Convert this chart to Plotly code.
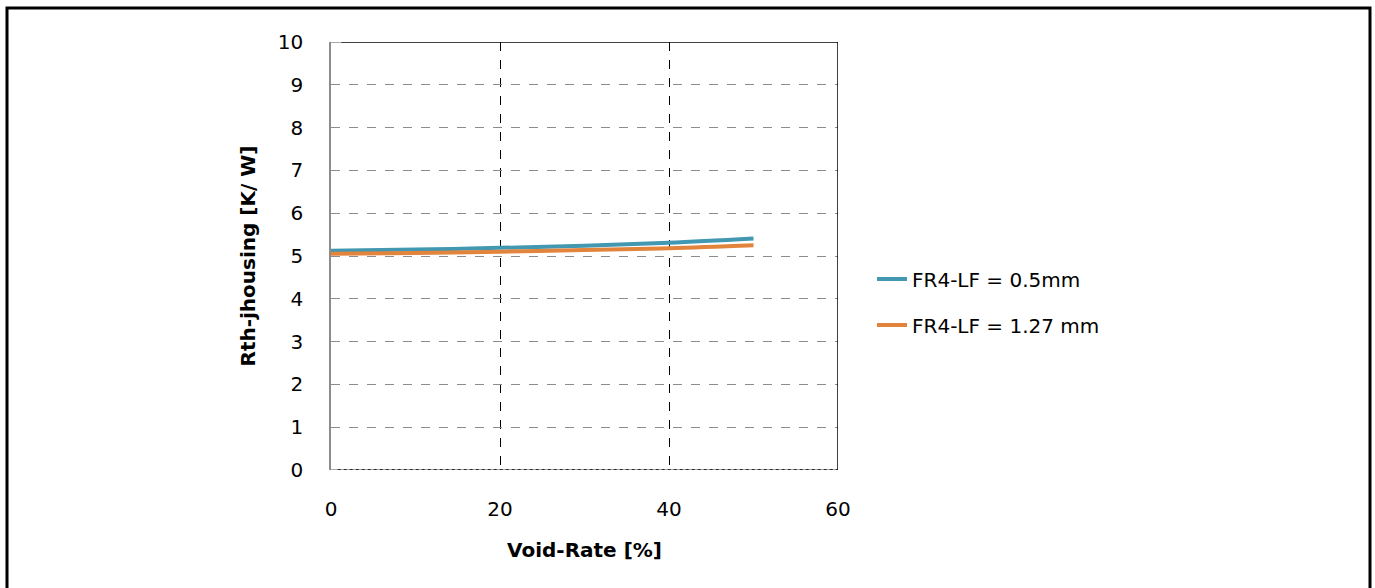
import plotly.graph_objects as go

void_rate = [0, 10, 20, 30, 40, 50]
rth_05 = [5.12, 5.15, 5.19, 5.24, 5.31, 5.41]
rth_127 = [5.05, 5.07, 5.10, 5.14, 5.18, 5.25]
x_ticks = [0, 20, 40, 60]
y_ticks = list(range(0, 11))

FONT = "DejaVu Sans, sans-serif"
L, R, T, B = 331, 838, 42, 470
W, H = 1375, 588
pw, ph = R - L, B - T

fig = go.Figure()
fig.add_trace(go.Scatter(x=void_rate, y=rth_05, mode="lines", name="FR4-LF = 0.5mm",
                         legendgroup="a",
                         line=dict(color="#4297B1", width=4), line_shape="spline"))
fig.add_trace(go.Scatter(x=void_rate, y=rth_127, mode="lines", name="FR4-LF = 1.27 mm",
                         legendgroup="b",
                         line=dict(color="#E3843C", width=4), line_shape="spline"))

fig.update_layout(
    width=W, height=H,
    margin=dict(l=L, r=W - R, t=T, b=H - B, autoexpand=False),
    plot_bgcolor="white", paper_bgcolor="white",
    font=dict(family=FONT, size=20, color="black"),
    showlegend=True,
    legend=dict(x=(872 - L) / pw, y=(B - 302) / ph, xanchor="left", yanchor="middle",
                font=dict(size=20), tracegroupgap=17, itemwidth=30, bgcolor="rgba(0,0,0,0)"),
    xaxis=dict(range=[0, 60], tickvals=x_ticks, showgrid=True, gridcolor="black", griddash="dash",
               gridwidth=1, showline=False, zeroline=False, ticks="", ticklabelstandoff=25,
               title=dict(text="<b>Void-Rate [%]</b>", standoff=22, font=dict(size=20))),
    yaxis=dict(range=[0, 10], tickvals=y_ticks, showgrid=True, gridcolor="#8c8c8c", griddash="dash",
               gridwidth=1, showline=True, linecolor="#8c8c8c", linewidth=1.5, zeroline=False, ticks="",
               ticklabelstandoff=22,
               title=dict(text="<b>Rth-jhousing [K/ W]</b>", standoff=17, font=dict(size=20))),
)

# plot-area edges
fig.add_shape(type="line", xref="x", yref="y", x0=1.2, x1=60, y0=10, y1=10,
              line=dict(color="black", width=1.5))
fig.add_shape(type="line", xref="x", yref="y", x0=0, x1=1.2, y0=10, y1=10,
              line=dict(color="#8c8c8c", width=1.5))
fig.add_shape(type="line", xref="x", yref="y", x0=60, x1=60, y0=0, y1=10,
              line=dict(color="black", width=1.5))
fig.add_shape(type="line", xref="x", yref="y", x0=0, x1=60, y0=0, y1=0,
              line=dict(color="#8c8c8c", width=1.5))
fig.add_shape(type="line", xref="x", yref="y", x0=0.8, x1=60, y0=0, y1=0,
              line=dict(color="black", width=1.5, dash="dot"))
# outer frame
fig.add_shape(type="rect", xref="paper", yref="paper",
              x0=(7 - L) / pw, x1=(1370 - L) / pw,
              y0=(B - 600) / ph, y1=(B - 8) / ph,
              line=dict(color="black", width=3))

fig.write_html("out.html", config={"displayModeBar": False},
               post_script="document.body.style.margin='0';document.body.style.overflow='hidden';")
